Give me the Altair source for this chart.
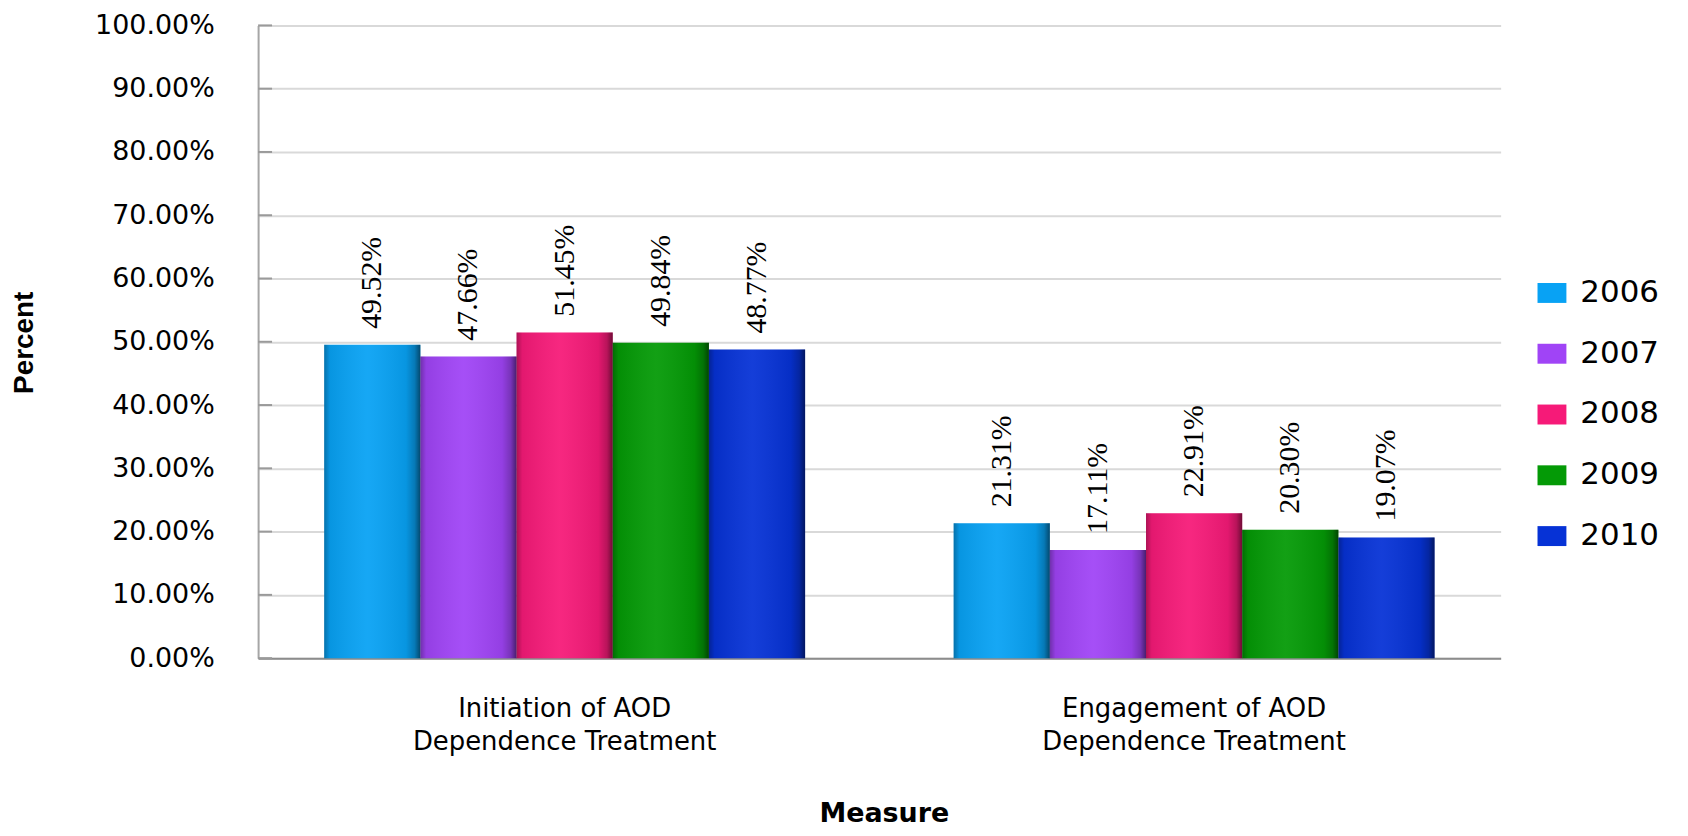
import altair as alt
import pandas as pd

measures = ["Initiation of AOD Dependence Treatment", "Engagement of AOD Dependence Treatment"]
years = ["2006", "2007", "2008", "2009", "2010"]
initiation = [49.52, 47.66, 51.45, 49.84, 48.77]
engagement = [21.31, 17.11, 22.91, 20.30, 19.07]
colors = ["#08a2f4", "#a044f6", "#f61a78", "#049a06", "#0632d6"]
y_ticks = [0, 10, 20, 30, 40, 50, 60, 70, 80, 90, 100]

rows = []
for i, yr in enumerate(years):
    rows.append({"measure": measures[0], "year": yr, "value": initiation[i]})
    rows.append({"measure": measures[1], "year": yr, "value": engagement[i]})
df = pd.DataFrame(rows)
ticks_df = pd.DataFrame({"value": y_ticks})

x_enc = alt.X(
    "measure:N",
    sort=measures,
    scale=alt.Scale(paddingInner=0.236, paddingOuter=0.105),
    axis=alt.Axis(
        title="Measure",
        labelExpr="[replace(datum.label, ' Dependence Treatment', ''), 'Dependence Treatment']",
        labelAngle=0,
        labelFont="DejaVu Sans",
        labelFontSize=26,
        labelLineHeight=33,
        labelPadding=38,
        labelBaseline="top",
        labelColor="black",
        labelLimit=0,
        domainColor="#8c8c8c",
        domainWidth=2,
        ticks=False,
        titleFont="DejaVu Sans",
        titleFontSize=27,
        titleFontWeight="bold",
        titleColor="black",
        titleX=628,
        titleY=156,
        titleBaseline="middle",
        grid=False,
    ),
)

y_scale = alt.Scale(domain=[0, 100], nice=False)

y_enc = alt.Y(
    "value:Q",
    scale=y_scale,
    axis=alt.Axis(
        values=y_ticks,
        labelExpr="format(datum.value, '.2f') + '%'",
        labelFont="DejaVu Sans",
        labelFontSize=27,
        labelPadding=44,
        labelColor="black",
        ticks=False,
        domainColor="#a6a6a6",
        domainWidth=2,
        gridColor="#d9d9d9",
        gridWidth=2,
        title="Percent",
        titleFont="Liberation Sans",
        titleFontSize=28,
        titleFontWeight="bold",
        titleColor="black",
        titleX=-234,
        titleY=318,
        titleAngle=270,
        titleBaseline="middle",
        titleAlign="center",
    ),
)

x_off = alt.XOffset("year:N", sort=years, scale=alt.Scale(paddingInner=0, paddingOuter=0))

base = alt.Chart(df).encode(x=x_enc, y=y_enc, xOffset=x_off)

bars = base.mark_bar().encode(
    color=alt.Color(
        "year:N",
        sort=years,
        scale=alt.Scale(domain=years, range=colors),
        legend=alt.Legend(
            title=None,
            orient="none",
            legendX=1283,
            legendY=253,
            symbolType="M-1,-0.69L1,-0.69L1,0.69L-1,0.69Z",
            symbolSize=841,
            symbolStrokeWidth=0,
            symbolOpacity=1,
            labelFont="DejaVu Sans",
            labelFontSize=31,
            labelColor="black",
            labelOffset=13,
            rowPadding=29,
        ),
    )
)

shade = base.mark_bar(
    color=alt.LinearGradient(
        gradient="linear",
        x1=0, x2=1, y1=0, y2=0,
        stops=[
            alt.GradientStop(offset=0, color="rgba(0,0,0,0.30)"),
            alt.GradientStop(offset=0.06, color="rgba(0,0,0,0.08)"),
            alt.GradientStop(offset=0.45, color="rgba(255,255,255,0.06)"),
            alt.GradientStop(offset=0.85, color="rgba(0,0,0,0.08)"),
            alt.GradientStop(offset=0.94, color="rgba(0,0,0,0.25)"),
            alt.GradientStop(offset=1, color="rgba(0,0,0,0.55)"),
        ],
    )
)

labels = base.transform_calculate(
    label="format(datum.value, '.2f') + '%'"
).mark_text(
    angle=270,
    align="left",
    baseline="middle",
    dx=16,
    font="Liberation Sans Narrow",
    fontSize=30,
    color="black",
).encode(text="label:N")

inner_ticks = alt.Chart(ticks_df).mark_rule(color="#9a9a9a", strokeWidth=2).encode(
    y=alt.Y("value:Q", scale=y_scale),
    x=alt.value(0),
    x2=alt.value(14),
)

chart = alt.layer(bars, shade, labels, inner_ticks).properties(
    width=1247,
    height=635,
    autosize=alt.AutoSizeParams(type="none"),
    padding={"left": 251, "top": 16, "right": 180, "bottom": 172},
).configure_view(stroke=None)

chart.save("out.html", embed_options={"renderer": "svg", "actions": False})
